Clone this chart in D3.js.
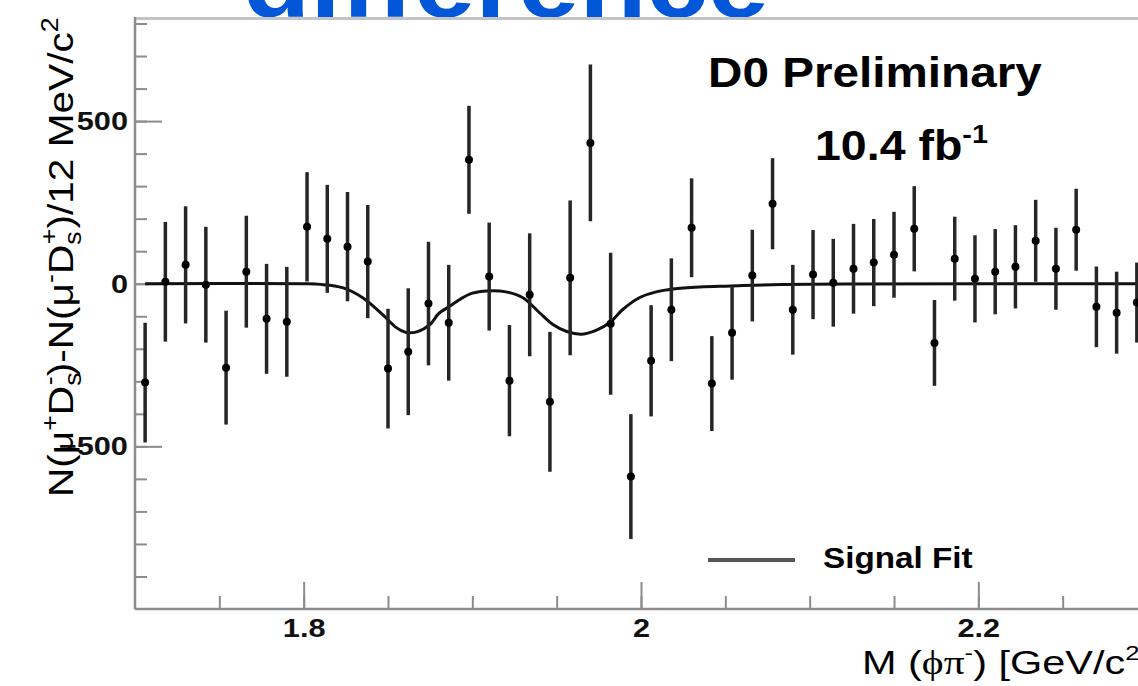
<!DOCTYPE html>
<html><head><meta charset="utf-8">
<script src="https://cdn.jsdelivr.net/npm/d3@7"></script>
<style>html,body{margin:0;padding:0;background:#fff;} svg{display:block;}</style>
</head><body>
<svg id="c" width="1138" height="686"></svg>
<script>
// ---- data ----
const binCenters = [1.706,1.718,1.730,1.742,1.754,1.766,1.778,1.790,1.802,1.814,
  1.826,1.838,1.850,1.862,1.874,1.886,1.898,1.910,1.922,1.934,
  1.946,1.958,1.970,1.982,1.994,2.006,2.018,2.030,2.042,2.054,
  2.066,2.078,2.090,2.102,2.114,2.126,2.138,2.150,2.162,2.174,
  2.186,2.198,2.210,2.222,2.234,2.246,2.258,2.270,2.282,2.294];
const diffValues = [-304,6,58,-3,-258,37,-108,-117,175,138,
  114,68,-261,-209,-61,-120,381,22,-298,-34,
  -363,18,433,-123,-593,-237,-80,172,-307,-151,
  25,246,-80,28,3,46,65,89,169,-182,
  77,15,37,52,132,46,166,-71,-89,-58];
const diffErrors = [184,184,180,178,175,172,169,169,168,166,
  168,174,184,195,190,178,166,166,171,189,
  215,238,241,218,192,171,158,152,146,144,
  141,140,138,137,135,138,134,132,131,132,
  129,134,131,128,126,126,126,124,126,123];
const fitX = [1.706,1.800,1.810,1.823,1.835,1.847,1.855,1.861,1.867,1.875,1.880,1.887,1.893,1.900,1.909,1.920,1.930,1.940,1.948,1.956,1.965,1.974,1.982,1.989,1.999,2.009,2.019,2.035,2.053,2.078,2.120,2.300];
const fitY = [0,0,-2,-12,-43,-96,-135,-150,-148,-125,-92,-68,-47,-29,-22,-25,-43,-90,-126,-147,-155,-142,-117,-80,-43,-25,-16,-10,-7,-3,-1,0];
const xMajorTicks = [1.8, 2.0, 2.2];
const xMinorTicks = [1.75,1.8,1.85,1.9,1.95,2.0,2.05,2.1,2.15,2.2,2.25];
const yMajorTicks = [-500, 0, 500];
const yMinorTicks = [-900,-800,-700,-600,-500,-400,-300,-200,-100,0,100,200,300,400,500,600,700,800];
const legendLabel = "Signal Fit";

// ---- layout ----
const FONT = "'Liberation Sans', Arial, Helvetica, sans-serif";
const svg = d3.select("#c");
const x = d3.scaleLinear().domain([1.7, 2.3]).range([135, 1147]);
const y = d3.scaleLinear().domain([-1000, 820]).range([609, 17]);
const axisCol = "#8c8c8c";

// helper: text placed with left edge at x0 and scaled to a target width (or fixed scale)
function placeText(parent, x0, yb, build, opts) {
  const g = parent.append("g");
  const t = g.append("text").attr("x", 0).attr("y", 0)
    .attr("font-family", FONT).attr("font-size", opts.size)
    .attr("font-weight", opts.weight || "normal").attr("fill", opts.fill || "#000");
  build(t);
  const bb = t.node().getBBox();
  const s = opts.width ? opts.width / bb.width : (opts.sx || 1);
  t.attr("x", -bb.x);
  const rot = opts.rotate ? ` rotate(${opts.rotate})` : "";
  g.attr("transform", `translate(${x0},${yb})${rot} scale(${s},1)`);
  return g;
}

// blue title (cut at the top)
placeText(svg, 243, 17, t => t.text("difference"),
  {size: 100, weight: "bold", fill: "#0256d8", width: 526});

// frame
svg.append("line").attr("x1", 135).attr("x2", 1138).attr("y1", 18.5).attr("y2", 18.5)
  .attr("stroke", "#c4c4c4").attr("stroke-width", 3);

// y axis
const yMinor = svg.append("g").attr("transform", "translate(135,0)")
  .call(d3.axisLeft(y).tickValues(yMinorTicks).tickSize(-12).tickFormat(""));
const yMajor = svg.append("g").attr("transform", "translate(135,0)")
  .call(d3.axisLeft(y).tickValues(yMajorTicks).tickSize(-27).tickPadding(6).tickFormat(d3.format("d")));
// x axis
const xMinor = svg.append("g").attr("transform", "translate(0,609)")
  .call(d3.axisBottom(x).tickValues(xMinorTicks).tickSize(-13).tickFormat(""));
const xMajor = svg.append("g").attr("transform", "translate(0,609)")
  .call(d3.axisBottom(x).tickValues(xMajorTicks).tickSize(-27).tickPadding(10).tickFormat(d => d === 2 ? "2" : d3.format(".1f")(d)));
[yMinor, yMajor, xMinor, xMajor].forEach(a => {
  a.select(".domain").attr("stroke", axisCol).attr("stroke-width", 2.5);
  a.selectAll(".tick line").attr("stroke", axisCol).attr("stroke-width", 2);
  a.selectAll("text").attr("font-family", FONT).attr("font-weight", "bold")
    .attr("font-size", 26).attr("fill", "#111").attr("transform", "scale(1.18,1)");
});
yMajor.select(".domain").attr("d", "M0,17V609");
xMajor.select(".domain").attr("d", "M135,0H1147");
yMinor.select(".domain").remove();
xMinor.select(".domain").remove();

// fit curve
const line = d3.line().x((d, i) => x(fitX[i])).y((d, i) => y(fitY[i])).curve(d3.curveCatmullRom.alpha(0.5));
svg.append("path").datum(fitX).attr("d", line).attr("fill", "none")
  .attr("stroke", "#111").attr("stroke-width", 3);

// error bars + points
const pts = svg.append("g");
pts.selectAll("line").data(binCenters).join("line")
  .attr("x1", d => x(d)).attr("x2", d => x(d))
  .attr("y1", (d, i) => y(diffValues[i] + diffErrors[i]))
  .attr("y2", (d, i) => y(diffValues[i] - diffErrors[i]))
  .attr("stroke", "#262626").attr("stroke-width", 3.5);
pts.selectAll("circle").data(binCenters).join("circle")
  .attr("cx", d => x(d)).attr("cy", (d, i) => y(diffValues[i])).attr("r", 4).attr("fill", "#000");

// annotations
placeText(svg, 708, 87, t => t.text("D0 Preliminary"), {size: 43, weight: "bold", width: 334});
placeText(svg, 815, 160, t => {
  t.append("tspan").text("10.4 fb");
  t.append("tspan").attr("font-size", 26).attr("dy", -17).text("-1");
}, {size: 42, weight: "bold", width: 173});

// legend
svg.append("line").attr("x1", 708).attr("x2", 795).attr("y1", 560).attr("y2", 560)
  .attr("stroke", "#555").attr("stroke-width", 4);
placeText(svg, 823, 568, t => t.text(legendLabel), {size: 29, weight: "bold", width: 150});

// x axis title
placeText(svg, 862, 674, t => {
  t.append("tspan").text("M (");
  t.append("tspan").attr("font-family", "'Liberation Serif', 'DejaVu Serif', serif").text("ϕπ");
  t.append("tspan").attr("font-size", 21).attr("dy", -14).text("-");
  t.append("tspan").attr("dy", 14).text(") [GeV/c");
  t.append("tspan").attr("font-size", 21).attr("dy", -14).text("2");
  t.append("tspan").attr("dy", 14).text("]");
}, {size: 34, sx: 1.22});

// y axis title (rotated)
placeText(svg, 73, 497, t => {
  const S = 23;
  t.append("tspan").text("N(μ");
  t.append("tspan").attr("font-size", S).attr("dy", -15).text("+");
  t.append("tspan").attr("dy", 15).text("D");
  t.append("tspan").attr("font-size", S).attr("dy", 8).text("s");
  t.append("tspan").attr("font-size", S).attr("dx", -11).attr("dy", -24).text("-");
  t.append("tspan").attr("dy", 16).text(")-N(μ");
  t.append("tspan").attr("font-size", S).attr("dy", -15).text("-");
  t.append("tspan").attr("dy", 15).text("D");
  t.append("tspan").attr("font-size", S).attr("dy", 8).text("s");
  t.append("tspan").attr("font-size", S).attr("dx", -11).attr("dy", -24).text("+");
  t.append("tspan").attr("dy", 16).text(")/12 MeV/c");
  t.append("tspan").attr("font-size", S).attr("dy", -15).text("2");
}, {size: 35, width: 480, rotate: -90});
</script>
</body></html>
